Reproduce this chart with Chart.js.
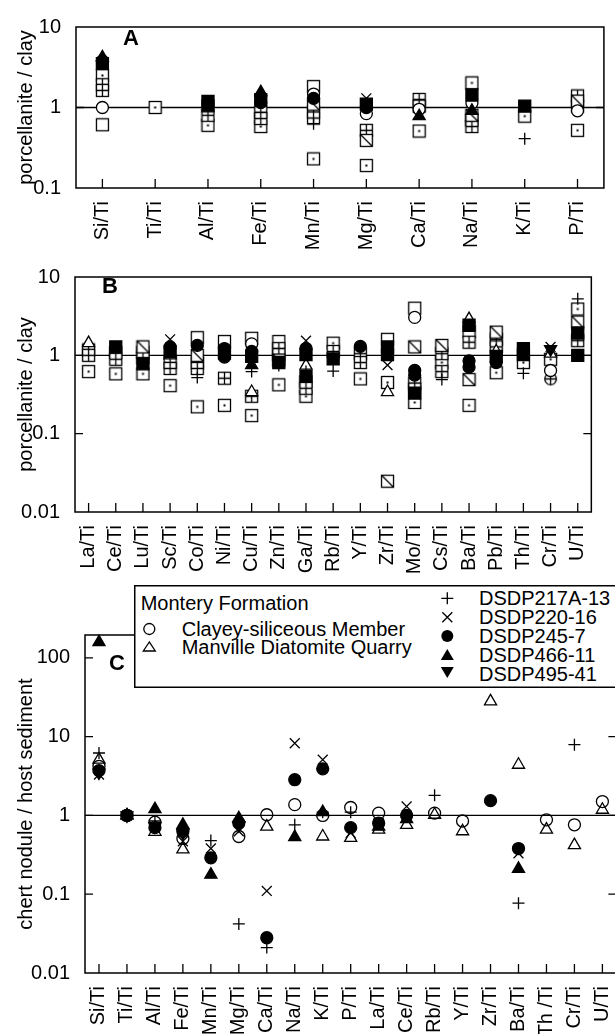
<!DOCTYPE html>
<html><head><meta charset="utf-8">
<script src="https://cdn.jsdelivr.net/npm/chart.js@4.4.0/dist/chart.umd.min.js"></script>
<style>
html,body{margin:0;padding:0;background:#fff;overflow:hidden;width:615px;height:1034px;}
#wrap{position:relative;width:615px;height:1034px;overflow:hidden;font-family:"Liberation Sans",Arial,Helvetica,sans-serif;background:#fff;}
canvas{position:absolute;left:0;}
#legend{position:absolute;left:134px;top:585px;width:500px;height:103px;background:#fff;box-shadow:inset 0 0 0 1.5px #000;z-index:5;}
.lt{position:absolute;font-size:20px;line-height:20px;white-space:nowrap;color:#000;}
.lm{position:absolute;left:0;top:0;}
</style></head>
<body><div id="wrap">
<canvas id="cA" width="615" height="255" style="top:0"></canvas>
<canvas id="cB" width="615" height="330" style="top:250px"></canvas>
<canvas id="cC" width="640" height="464" style="top:570px"></canvas>
<div id="legend">
<svg class="lm" width="500" height="103">
 <circle cx="15.3" cy="44" r="5.5" fill="none" stroke="#000" stroke-width="1.3"/>
 <polygon points="15.3,57 9.3,66 21.3,66" fill="none" stroke="#000" stroke-width="1.3"/>
 <path d="M313.3 7.3 V19.3 M307.3 13.3 H319.3" stroke="#000" stroke-width="1.3" fill="none"/>
 <path d="M308.3 27.3 L318.3 37.3 M318.3 27.3 L308.3 37.3" stroke="#000" stroke-width="1.3" fill="none"/>
 <circle cx="313.3" cy="51" r="6" fill="#000"/>
 <polygon points="313.3,64 306.8,75 319.8,75" fill="#000"/>
 <polygon points="306.8,82 319.8,82 313.3,93" fill="#000"/>
</svg>
<div class="lt" style="left:6.7px;top:8px">Montery Formation</div>
<div class="lt" style="left:47.7px;top:34px">Clayey-siliceous Member</div>
<div class="lt" style="left:47.7px;top:52px">Manville Diatomite Quarry</div>
<div class="lt" style="left:345px;top:3px">DSDP217A-13</div>
<div class="lt" style="left:345px;top:22px">DSDP220-16</div>
<div class="lt" style="left:345px;top:41px">DSDP245-7</div>
<div class="lt" style="left:345px;top:60px">DSDP466-11</div>
<div class="lt" style="left:345px;top:79px">DSDP495-41</div>
</div>
</div>
<script>
// ---------- Panel A data ----------
const CATS_A = ['Si/Ti','Ti/Ti','Al/Ti','Fe/Ti','Mn/Ti','Mg/Ti','Ca/Ti','Na/Ti','K/Ti','P/Ti'];
const YTICKS_A = [0.1, 1, 10];
const A_sqDot    = [2.5, 1.0, 0.6, 0.58, 0.23, 0.19, 0.51, 2.02, 0.78, 0.52];
const A_sqGrid   = [1.92, null, 0.8, 0.87, 0.87, 0.52, 1.26, 0.7, null, 1.39];
const A_sqGrid2  = [1.63, null, null, 0.73, 0.74, null, 1.04, 0.58, null, 1.04];
const A_sqOpen   = [0.61, null, null, null, 1.82, null, null, null, null, null];
const A_sqSlash  = [null, null, null, null, 1.1, 0.39, null, 0.8, null, 1.2];
const A_sqFill   = [3.5, null, 1.19, 1.25, null, 1.1, null, 1.43, 1.04, null];
const A_sqFill2  = [null, null, 1.05, null, null, null, null, null, null, null];
const A_triFill  = [4.2, null, null, 1.55, null, null, 0.78, 0.91, null, null];
const A_circFill = [3.8, null, null, 1.15, 1.3, 1.0, null, null, null, null];
const A_circOpen = [1.0, null, null, null, 1.47, 0.84, 0.95, 1.14, null, 0.91];
const A_plus     = [null, null, null, null, 0.63, null, null, null, 0.41, null];
const A_cross    = [null, null, null, null, null, 1.3, null, null, null, null];

// ---------- Panel B data ----------
const CATS_B = ['La/Ti','Ce/Ti','Lu/Ti','Sc/Ti','Co/Ti','Ni/Ti','Cu/Ti','Zn/Ti','Ga/Ti','Rb/Ti','Y/Ti','Zr/Ti','Mo/Ti','Cs/Ti','Ba/Ti','Pb/Ti','Th/Ti','Cr/Ti','U/Ti'];
const YTICKS_B = [0.01, 0.1, 1, 10];
const B_sqDot    = [0.62,0.58,0.58,0.41,0.22,0.23,0.17,0.42,0.30,1.43,0.50,0.45,0.25,0.81,0.23,0.60,0.81,0.89,3.9];
const B_sqGrid   = [1.17,1.09,1.09,0.81,0.80,0.51,0.30,1.22,0.46,1.12,1.05,null,0.44,1.05,1.47,1.60,null,null,1.54];
const B_sqGrid2  = [1.0,0.89,0.93,0.68,0.68,null,null,1.02,0.38,null,0.81,null,0.37,0.62,null,1.28,null,null,null];
const B_sqOpen   = [null,null,null,null,1.68,1.5,1.65,1.5,null,null,null,1.6,4.0,null,2.02,null,null,null,null];
const B_sqSlash  = [null,null,1.28,null,1.0,null,null,0.87,null,null,null,0.0247,1.28,1.34,0.49,1.98,null,null,2.66];
const B_sqFill   = [null,1.28,null,1.12,null,1.07,0.97,null,1.02,0.9,null,1.28,null,null,2.42,0.97,1.22,null,1.0];
const B_sqFill2  = [null,null,0.78,null,null,null,null,0.81,0.54,null,null,1.02,0.33,null,null,null,1.02,null,1.93];
const B_triOpen  = [1.43,null,null,1.0,null,null,0.34,null,0.74,null,null,0.34,null,null,2.9,1.12,null,1.05,null];
const B_triFill  = [null,null,null,null,null,null,0.75,null,null,null,null,null,null,null,null,null,null,null,null];
const B_circFill = [null,null,null,1.28,1.34,1.22,1.12,null,1.22,null,1.3,1.15,0.64,null,0.85,0.81,null,null,null];
const B_circFill2= [null,null,null,null,null,0.95,null,null,null,null,null,null,0.56,null,0.71,null,null,null,null];
const B_circOpen = [null,null,null,null,null,null,1.4,null,null,null,null,null,3.05,null,null,null,null,0.64,null];
const B_cross    = [null,null,null,1.6,null,null,null,null,1.54,null,null,0.75,null,null,null,null,null,1.28,null];
const B_plus     = [null,null,null,null,0.52,null,0.62,0.74,0.62,0.63,null,null,null,0.49,null,null,0.59,null,5.27];
const B_circPlus = [null,null,null,null,null,null,null,null,null,null,null,null,null,null,null,null,null,0.5,null];
const B_triDown  = [null,null,null,null,null,null,null,null,null,null,null,null,null,null,null,null,null,1.2,null];

// ---------- Panel C data ----------
const CATS_C = ['Si/Ti','Ti/Ti','Al/Ti','Fe/Ti','Mn/Ti','Mg/Ti','Ca/Ti','Na/Ti','K/Ti','P/Ti','La/Ti','Ce/Ti','Rb/Ti','Y/Ti','Zr/Ti','Ba/Ti','Th /Ti','Cr/Ti','U/Ti'];
const YTICKS_C = [0.01, 0.1, 1, 10, 100];
const C_clayey   = [4.2,1.0,0.82,0.51,null,0.54,1.02,1.37,1.0,1.26,1.07,null,1.07,0.85,null,null,0.88,0.76,1.5];
const C_manville = [5.1,1.0,0.62,0.37,null,null,0.72,null,0.54,0.52,0.66,0.76,1.02,0.63,28,4.4,0.66,0.42,1.18];
const C_217A     = [6.2,1.0,0.85,null,0.48,0.042,0.021,0.76,1.1,1.1,null,null,1.8,null,null,0.077,null,7.9,null];
const C_220      = [3.3,1.0,0.7,0.47,0.38,0.63,0.11,8.25,5.1,0.6,0.8,1.3,null,null,null,0.33,null,null,null];
const C_245      = [3.7,1.0,0.7,0.63,0.29,0.8,0.028,2.84,3.9,0.7,0.8,1.0,null,null,1.54,0.38,null,null,null];
const C_466      = [158,1.0,1.2,0.76,0.177,0.92,null,0.53,1.1,null,0.72,0.9,null,null,null,0.21,null,null,null];
const C_495      = [3.5,1.0,0.73,0.6,null,0.75,null,null,null,null,null,null,null,null,null,null,null,null,null];

const FONT = '"Liberation Sans", Arial, Helvetica, sans-serif';
Chart.defaults.font.family = FONT;
Chart.defaults.font.size = 20;
Chart.defaults.color = '#000';

function mk(kind){
  const c=document.createElement('canvas'); c.width=15; c.height=15; const g=c.getContext('2d');
  g.lineWidth=1.3; g.strokeStyle='#000'; g.fillStyle='#fff';
  if(kind==='cplus'){
    g.beginPath(); g.arc(7.5,7.5,5.8,0,Math.PI*2); g.fill(); g.stroke();
    g.beginPath(); g.moveTo(7.5,1.7); g.lineTo(7.5,13.3); g.moveTo(1.7,7.5); g.lineTo(13.3,7.5); g.stroke();
    return c;
  }
  g.fillRect(1.5,1.5,12,12); g.strokeRect(1.5,1.5,12,12);
  if(kind==='dot'){ g.fillStyle='#000'; g.fillRect(6.5,6.5,2,2); }
  if(kind==='grid'){ g.beginPath(); g.moveTo(7.5,1.5); g.lineTo(7.5,13.5); g.moveTo(1.5,7.5); g.lineTo(13.5,7.5); g.stroke(); }
  if(kind==='slash'){ g.beginPath(); g.moveTo(1.5,1.5); g.lineTo(13.5,13.5); g.stroke(); }
  return c;
}
const IMG = {dot:mk('dot'), grid:mk('grid'), open:mk('open'), slash:mk('slash'), cplus:mk('cplus')};

function ds(label, data, style, o){
  return Object.assign({label, data, showLine:false, pointStyle:style, pointRadius:6, pointHoverRadius:6,
    pointBorderColor:'#000', pointBackgroundColor:'#fff', pointBorderWidth:1.3, clip:false}, o||{});
}
const FILL = {pointBackgroundColor:'#000'};

const deco = {
  id:'deco',
  beforeDatasetsDraw(chart, args, o){
    const {ctx, chartArea:a, scales:{x,y}} = chart;
    ctx.save();
    ctx.strokeStyle='#000';
    ctx.lineWidth=1.5;
    ctx.strokeRect(a.left, a.top, a.right-a.left, a.bottom-a.top);
    const y1 = y.getPixelForValue(1);
    ctx.lineWidth=1.3;
    ctx.beginPath(); ctx.moveTo(a.left,y1); ctx.lineTo(a.right,y1); ctx.stroke();
    x.ticks.forEach((t,i)=>{
      const px = x.getPixelForTick(i);
      ctx.beginPath(); ctx.moveTo(px,a.bottom); ctx.lineTo(px,a.bottom-9); ctx.stroke();
    });
    y.ticks.forEach(t=>{
      const py = y.getPixelForValue(t.value);
      if(py<=a.top+1 || py>=a.bottom-1) return;
      ctx.beginPath(); ctx.moveTo(a.left,py); ctx.lineTo(a.left+8,py);
      ctx.moveTo(a.right,py); ctx.lineTo(a.right-8,py); ctx.stroke();
    });
    ctx.fillStyle='#000';
    ctx.font='bold 22px '+FONT;
    ctx.textBaseline='alphabetic';
    ctx.fillText(o.letter, o.lx, o.ly);
    ctx.restore();
  }
};

function makeChart(id, cats, yticks, ymin, ymax, yw, xh, pad, title, datasets, letter){
  return new Chart(document.getElementById(id), {
    type:'line',
    data:{labels:cats, datasets},
    plugins:[deco],
    options:{
      responsive:false, animation:false, devicePixelRatio:1,
      layout:{padding:pad},
      plugins:{legend:{display:false}, tooltip:{enabled:false}, deco:letter},
      scales:{
        x:{type:'category', offset:true, afterFit:s=>{s.height=xh;},
           grid:{display:false, drawTicks:false}, border:{display:false},
           ticks:{autoSkip:false, minRotation:90, maxRotation:90, padding:13, color:'#000', font:{size:20}}},
        y:{type:'logarithmic', min:ymin, max:ymax,
           afterBuildTicks:s=>{ s.ticks = yticks.map(v=>({value:v})); },
           afterFit:s=>{s.width=yw;},
           grid:{display:false, drawTicks:false}, border:{display:false},
           ticks:{autoSkip:false, padding:15, color:'#000', font:{size:20}, callback:v=>String(v)},
           title:{display:true, text:title, color:'#000', font:{size:20}, padding:{top:14,bottom:0}}}
      }
    }
  });
}

makeChart('cA', CATS_A, YTICKS_A, 0.1, 10, 76, 67, {left:0, right:7, top:15, bottom:0}, 'porcellanite / clay', [
  ds('triFill', A_triFill, 'triangle', Object.assign({pointRadius:7}, FILL)),
  ds('cross', A_cross, 'crossRot', {pointRadius:7}),
  ds('circFill', A_circFill, 'circle', FILL),
  ds('sqFill', A_sqFill, 'rect', Object.assign({pointRadius:8.5}, FILL)),
  ds('sqFill2', A_sqFill2, 'rect', Object.assign({pointRadius:8.5}, FILL)),
  ds('plus', A_plus, 'cross', {pointRadius:6}),
  ds('circOpen', A_circOpen, 'circle'),
  ds('sqSlash', A_sqSlash, IMG.slash),
  ds('sqGrid2', A_sqGrid2, IMG.grid),
  ds('sqGrid', A_sqGrid, IMG.grid),
  ds('sqOpen', A_sqOpen, IMG.open),
  ds('sqDot', A_sqDot, IMG.dot)
], {letter:'A', lx:123, ly:45});

makeChart('cB', CATS_B, YTICKS_B, 0.01, 10, 75, 68, {left:0, right:7, top:10, bottom:0}, 'porcellanite / clay', [
  ds('triFill', B_triFill, 'triangle', Object.assign({pointRadius:7}, FILL)),
  ds('triDown', B_triDown, 'triangle', Object.assign({pointRadius:7, rotation:180}, FILL)),
  ds('cross', B_cross, 'crossRot', {pointRadius:7}),
  ds('circFill', B_circFill, 'circle', FILL),
  ds('circFill2', B_circFill2, 'circle', FILL),
  ds('sqFill', B_sqFill, 'rect', Object.assign({pointRadius:8.5}, FILL)),
  ds('sqFill2', B_sqFill2, 'rect', Object.assign({pointRadius:8.5}, FILL)),
  ds('plus', B_plus, 'cross', {pointRadius:6}),
  ds('triOpen', B_triOpen, 'triangle', {pointRadius:7}),
  ds('circOpen', B_circOpen, 'circle'),
  ds('circPlus', B_circPlus, IMG.cplus),
  ds('sqSlash', B_sqSlash, IMG.slash),
  ds('sqGrid2', B_sqGrid2, IMG.grid),
  ds('sqGrid', B_sqGrid, IMG.grid),
  ds('sqOpen', B_sqOpen, IMG.open),
  ds('sqDot', B_sqDot, IMG.dot)
], {letter:'B', lx:102, ly:43});

makeChart('cC', CATS_C, YTICKS_C, 0.01, 195, 85, 61, {left:0, right:23, top:65, bottom:0}, 'chert nodule / host sediment', [
  ds('DSDP217A-13', C_217A, 'cross', {pointRadius:6}),
  ds('DSDP220-16', C_220, 'crossRot', {pointRadius:7}),
  ds('DSDP245-7', C_245, 'circle', FILL),
  ds('DSDP466-11', C_466, 'triangle', Object.assign({pointRadius:7}, FILL)),
  ds('DSDP495-41', C_495, 'triangle', Object.assign({pointRadius:7, rotation:180}, FILL)),
  ds('Clayey-siliceous Member', C_clayey, 'circle', {pointBackgroundColor:'rgba(255,255,255,0)'}),
  ds('Manville Diatomite Quarry', C_manville, 'triangle', {pointRadius:7, pointBackgroundColor:'rgba(255,255,255,0)'})
], {letter:'C', lx:109, ly:100});
</script>
</body></html>
